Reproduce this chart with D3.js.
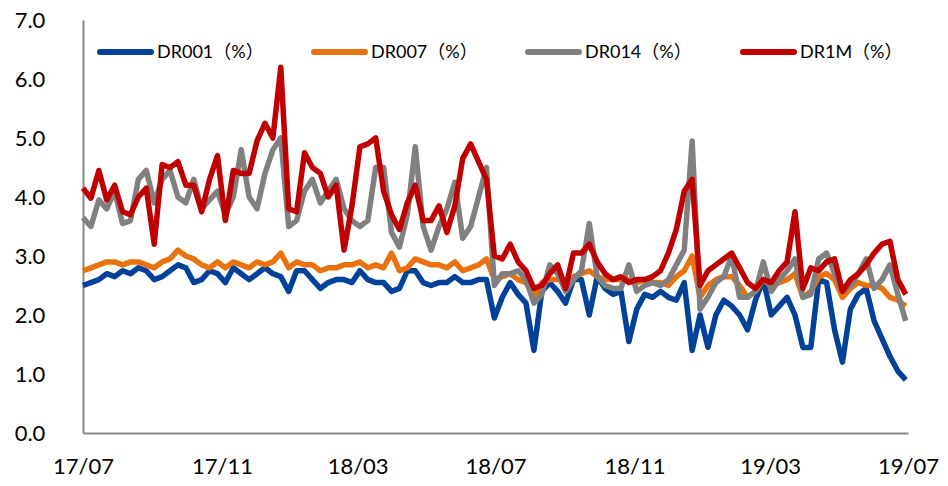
<!DOCTYPE html>
<html>
<head>
<meta charset="utf-8">
<script src="https://cdn.jsdelivr.net/npm/d3@7"></script>
<style>
  body { margin: 0; background: #fff; }
  text { font-family: Lato, "Noto Sans", "Noto Sans CJK SC", sans-serif; font-weight: 400; fill: #000; }
</style>
</head>
<body>
<svg width="948" height="486"></svg>
<script>
// weekly readings, first week starting 2017-07-01
var startDate = "2017-07-01";
var endDate = "2019-07-01";

var dr001 = [2.5, 2.55, 2.6, 2.7, 2.65, 2.75, 2.7, 2.8, 2.75, 2.6, 2.65, 2.75, 2.85, 2.8, 2.55, 2.6, 2.75, 2.7,
  2.55, 2.8, 2.7, 2.6, 2.7, 2.8, 2.7, 2.65, 2.4, 2.75, 2.75, 2.6, 2.45, 2.55, 2.6, 2.6, 2.55, 2.75,
  2.6, 2.55, 2.55, 2.4, 2.45, 2.75, 2.75, 2.55, 2.5, 2.55, 2.55, 2.65, 2.55, 2.55, 2.6, 2.6, 1.95, 2.3,
  2.55, 2.35, 2.2, 1.4, 2.4, 2.55, 2.4, 2.2, 2.6, 2.6, 2.0, 2.65, 2.45, 2.35, 2.4, 1.55, 2.1, 2.35,
  2.3, 2.4, 2.3, 2.25, 2.55, 1.4, 2.0, 1.45, 2.0, 2.25, 2.15, 2.0, 1.75, 2.25, 2.6, 2.0, 2.15, 2.3,
  2.0, 1.45, 1.45, 2.6, 2.55, 1.75, 1.2, 2.1, 2.35, 2.45, 1.9, 1.6, 1.3, 1.05, 0.9];

var dr007 = [2.75, 2.8, 2.85, 2.9, 2.9, 2.85, 2.9, 2.9, 2.85, 2.8, 2.9, 2.95, 3.1, 3.0, 2.95, 2.85, 2.8, 2.9,
  2.8, 2.9, 2.85, 2.8, 2.9, 2.85, 2.9, 3.05, 2.8, 2.9, 2.85, 2.85, 2.75, 2.8, 2.8, 2.85, 2.85, 2.9,
  2.8, 2.85, 2.8, 3.05, 2.75, 2.8, 2.95, 2.9, 2.85, 2.85, 2.8, 2.9, 2.75, 2.8, 2.85, 2.95, 2.6, 2.65,
  2.7, 2.6, 2.55, 2.3, 2.55, 2.6, 2.6, 2.6, 2.65, 2.7, 2.75, 2.65, 2.6, 2.6, 2.6, 2.6, 2.55, 2.6,
  2.55, 2.55, 2.5, 2.65, 2.75, 3.0, 2.3, 2.5, 2.6, 2.65, 2.65, 2.5, 2.3, 2.4, 2.6, 2.5, 2.55, 2.6,
  2.7, 2.3, 2.4, 2.65, 2.7, 2.6, 2.3, 2.45, 2.55, 2.5, 2.5, 2.45, 2.3, 2.25, 2.15];

var dr014 = [3.65, 3.5, 3.95, 3.8, 4.1, 3.55, 3.6, 4.3, 4.45, 3.9, 4.3, 4.45, 4.0, 3.9, 4.3, 3.8, 3.95, 4.1,
  3.7, 4.0, 4.8, 4.0, 3.8, 4.4, 4.8, 5.0, 3.5, 3.6, 4.1, 4.3, 3.9, 4.1, 4.3, 3.8, 3.6, 3.5,
  3.6, 4.5, 4.5, 3.4, 3.15, 3.7, 4.85, 3.5, 3.1, 3.5, 3.8, 4.25, 3.3, 3.5, 4.0, 4.5, 2.5, 2.7,
  2.7, 2.75, 2.6, 2.2, 2.35, 2.85, 2.7, 2.4, 2.6, 2.75, 3.55, 2.65, 2.5, 2.45, 2.45, 2.85, 2.4, 2.5,
  2.55, 2.5, 2.6, 2.85, 3.1, 4.95, 2.1, 2.3, 2.55, 2.65, 3.0, 2.3, 2.3, 2.4, 2.9, 2.4, 2.6, 2.75,
  2.95, 2.3, 2.35, 2.95, 3.05, 2.7, 2.4, 2.5, 2.7, 2.95, 2.45, 2.6, 2.85, 2.35, 1.9];

var dr1m = [4.15, 3.98, 4.45, 3.95, 4.2, 3.75, 3.7, 4.0, 4.15, 3.2, 4.55, 4.5, 4.6, 4.2, 4.2, 3.75, 4.3, 4.7,
  3.6, 4.45, 4.4, 4.4, 4.95, 5.25, 5.0, 6.2, 3.8, 3.75, 4.75, 4.5, 4.4, 4.0, 4.2, 3.1, 3.85, 4.85,
  4.9, 5.0, 4.1, 3.7, 3.45, 3.9, 4.2, 3.6, 3.6, 3.85, 3.4, 3.85, 4.65, 4.9, 4.6, 4.3, 3.0, 2.95,
  3.2, 2.9, 2.75, 2.45, 2.5, 2.7, 2.85, 2.45, 3.05, 3.05, 3.2, 2.9, 2.7, 2.6, 2.65, 2.55, 2.6, 2.6,
  2.65, 2.75, 3.05, 3.45, 4.1, 4.3, 2.5, 2.75, 2.85, 2.95, 3.05, 2.8, 2.55, 2.45, 2.6, 2.55, 2.75, 2.9,
  3.75, 2.45, 2.8, 2.75, 2.9, 2.95, 2.4, 2.6, 2.7, 2.85, 3.05, 3.2, 3.25, 2.6, 2.35];

var seriesNames = ["DR001（%）", "DR007（%）", "DR014（%）", "DR1M（%）"];
var seriesColors = ["#00419a", "#e9720f", "#808080", "#c00000"];
var yTicks = [0, 1, 2, 3, 4, 5, 6, 7];
var xTickDates = ["2017-07-01", "2017-11-01", "2018-03-01", "2018-07-01", "2018-11-01", "2019-03-01", "2019-07-01"];

var parse = d3.timeParse("%Y-%m-%d");
var start = parse(startDate);
var dates = dr001.map(function(d, i){ return d3.timeDay.offset(start, 7 * i); });
var allSeries = [dr001, dr007, dr014, dr1m];

var svg = d3.select("svg");

var x = d3.scaleTime()
    .domain([start, parse(endDate)])
    .range([83, 908]);

var y = d3.scaleLinear()
    .domain([0, 7])
    .range([433, 20]);

// y axis
var yAxis = svg.append("g")
    .attr("transform", "translate(83,0)")
    .call(d3.axisLeft(y).tickValues(yTicks).tickSize(0).tickFormat(d3.format(".1f")));
yAxis.select(".domain").attr("stroke", "#898989").attr("stroke-width", 2);
yAxis.selectAll("text").style("font-size", "22px").attr("dy", "0.35em").attr("x", -53).attr("text-anchor", "middle");

// x axis
var xAxis = svg.append("g")
    .attr("transform", "translate(0,433)")
    .call(d3.axisBottom(x).tickValues(xTickDates.map(parse)).tickSize(0).tickPadding(25).tickFormat(d3.timeFormat("%y/%m")));
xAxis.select(".domain").attr("stroke", "#898989").attr("stroke-width", 2);
xAxis.selectAll("text").style("font-size", "22px");

// lines
var line = d3.line()
    .x(function(d, i){ return x(dates[i]); })
    .y(function(d){ return y(d); });

svg.selectAll("path.series")
    .data(allSeries)
    .enter()
    .append("path")
    .attr("class", "series")
    .attr("d", line)
    .attr("fill", "none")
    .attr("stroke", function(d, i){ return seriesColors[i]; })
    .attr("stroke-width", 5.5)
    .attr("stroke-linejoin", "round");

// legend
var legendX = [100, 314, 528, 743];
var legend = svg.selectAll("g.legend")
    .data(seriesNames)
    .enter()
    .append("g")
    .attr("class", "legend")
    .attr("transform", function(d, i){ return "translate(" + legendX[i] + ",52)"; });
legend.append("line")
    .attr("x1", 0).attr("x2", 51)
    .attr("stroke", function(d, i){ return seriesColors[i]; })
    .attr("stroke-width", 6)
    .attr("stroke-linecap", "round");
legend.append("text")
    .attr("x", 57)
    .attr("dy", "0.35em")
    .style("font-size", "18px")
    .text(function(d){ return d; });
</script>
</body>
</html>
